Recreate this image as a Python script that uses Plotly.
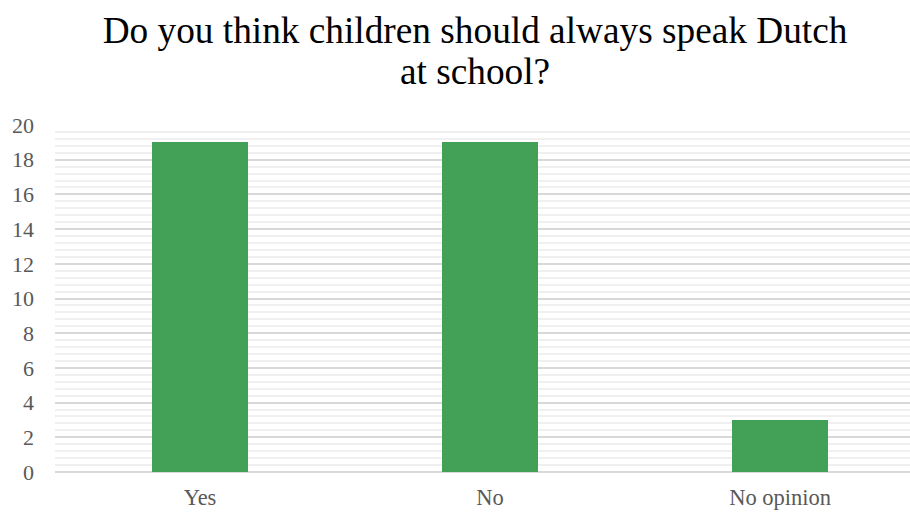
import plotly.graph_objects as go

categories = ["Yes", "No", "No opinion"]
values = [19, 19, 3]
y_ticks = list(range(0, 21, 2))
title_line1 = "Do you think children should always speak Dutch"
title_line2 = "at school?"

fig = go.Figure(go.Bar(
    x=categories, y=values, width=0.331,
    marker=dict(color="#43A057", line=dict(width=0)),
))

fig.update_layout(
    width=910, height=512,
    margin=dict(l=55, r=0, t=125, b=40),
    paper_bgcolor="white", plot_bgcolor="white",
    font=dict(family="Liberation Serif", color="#595959", size=22),
    title=dict(text=title_line1,
               x=0.522, xanchor="center", y=0.941, yanchor="middle",
               font=dict(size=37.3, color="#000000", family="Liberation Serif")),
    annotations=[dict(text=title_line2, xref="paper", yref="paper",
                      x=0.4915, y=1.155, xanchor="center", yanchor="middle",
                      showarrow=False,
                      font=dict(size=37.3, color="#000000", family="Liberation Serif"))],
    showlegend=False,
    bargap=0,
)
fig.update_xaxes(range=[-0.5, 2.448], showgrid=False, showline=False, ticks="",
                 ticklabelstandoff=9, automargin=False,
                 tickfont=dict(size=22.5, color="#595959"))
fig.update_yaxes(range=[0, 20], tickvals=y_ticks, showgrid=True, gridcolor="#D9D9D9", gridwidth=1.5,
                 zeroline=True, zerolinecolor="#D9D9D9", zerolinewidth=1.5,
                 minor=dict(dtick=0.4, showgrid=True, gridcolor="#F0F0F0", gridwidth=1.5),
                 ticks="", ticklabelstandoff=20, automargin=False,
                 tickfont=dict(size=22, color="#595959"))

fig.write_html("out.html")
